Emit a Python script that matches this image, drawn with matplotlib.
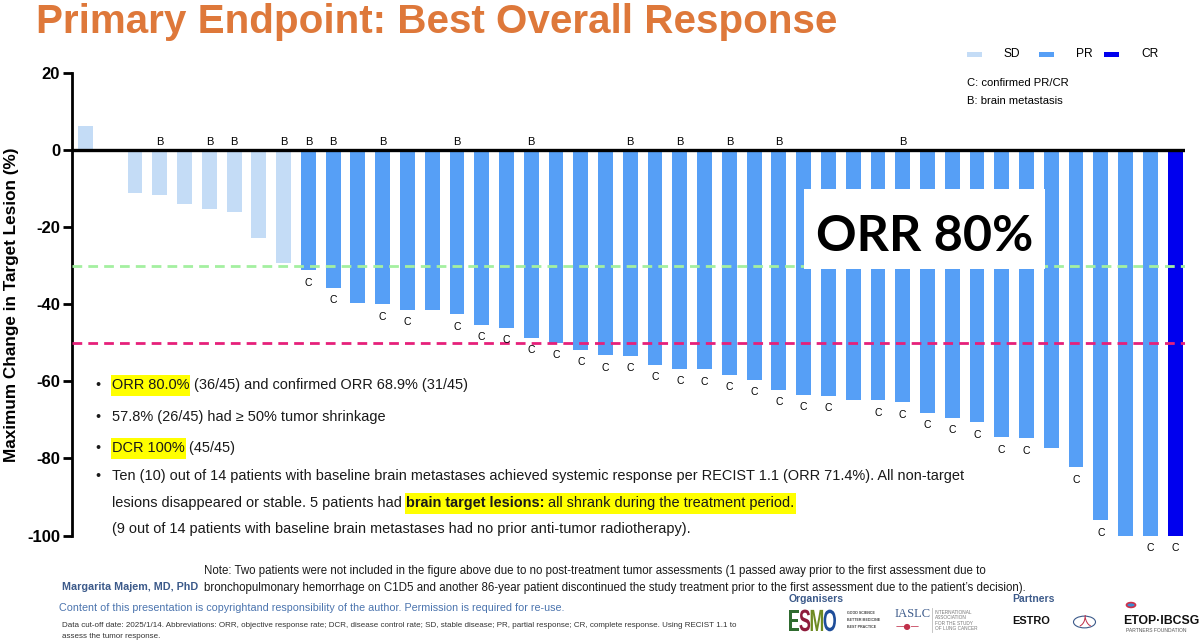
import matplotlib
matplotlib.use("Agg")
import matplotlib.pyplot as plt
from matplotlib.patches import Rectangle, Circle, PathPatch
from matplotlib.textpath import TextPath
from matplotlib.transforms import Affine2D, IdentityTransform
from matplotlib import font_manager as fm
import numpy as np

# ---- data (one value per patient) ----
change = [6.3, 0.0, -11.1, -11.6, -14.0, -15.3, -16.1, -22.7, -29.3,
          -31.1, -35.7, -39.6, -40.0, -41.4, -41.4, -42.6, -45.3, -46.1,
          -48.7, -50.0, -51.8, -53.2, -53.3, -55.7, -56.7, -56.9, -58.2,
          -59.6, -62.2, -63.4, -63.7, -64.8, -64.9, -65.4, -68.1, -69.4,
          -70.6, -74.5, -74.7, -77.4, -82.3, -96.1, -100.0, -100.0, -100.0]
response = ["SD"] * 9 + ["PR"] * 35 + ["CR"]
confirmed = [9, 10, 12, 13, 15, 16, 17, 18, 19, 20, 21, 22, 23, 24, 25, 26,
             27, 28, 29, 30, 32, 33, 34, 35, 36, 37, 38, 40, 41, 43, 44]
brain = [3, 5, 6, 8, 9, 10, 12, 15, 18, 22, 24, 26, 28, 33]
yticks = [20, 0, -20, -40, -60, -80, -100]
thresholds = [-30, -50]

colors = {"SD": "#C4DCF6", "PR": "#569FF6", "CR": "#0000EE"}
line_colors = ["#A4F0A0", "#E6207A"]

W, H = 1199, 641


def has_font(name):
    try:
        fm.findfont(fm.FontProperties(family=name), fallback_to_default=False)
        return True
    except ValueError:
        return False


SANS = "Liberation Sans"
NARROW = "Liberation Sans Narrow" if has_font("Liberation Sans Narrow") else SANS
BIG = "Lato"

plt.rcParams["axes.unicode_minus"] = False
plt.rcParams["font.family"] = [SANS, "DejaVu Sans"]


def fx(x):
    return x / W


def fy(y):
    return 1 - y / H


fig = plt.figure(figsize=(W / 100, H / 100), dpi=100)
R = fig.canvas.get_renderer()


def text_w(s, size, family, weight="normal"):
    t = fig.text(0, 0, s, fontsize=size, family=[family, "DejaVu Sans"], weight=weight)
    w = t.get_window_extent(renderer=R).width
    t.remove()
    return w


def fit(s, target, family, weight="normal"):
    # font size that makes the string as wide as in the slide
    return 10 * target / text_w(s, 10, family, weight)


def adv(s, size, family, weight="normal"):
    return text_w("|" + s + "|", size, family, weight) - text_w("||", size, family, weight)


# ---- waterfall axes ----
ax = fig.add_axes([fx(72), fy(535.5), (1185 - 72) / W, (535.5 - 73.3) / H])
x = np.arange(len(change))
ax.bar(x, change, width=0.6, color=[colors[r] for r in response], zorder=2)
for th, c in zip(thresholds, line_colors):
    ax.axhline(th, color=c, lw=2, ls=(0, (3.5, 2.2)), zorder=3)
ax.axhline(0, color="black", lw=2.4, zorder=4)

ax.set_xlim(-0.545, 44.4)
ax.set_ylim(-100, 20)
ax.set_xticks([])
ax.set_yticks(yticks)
ax.set_yticklabels([str(t) for t in yticks], fontsize=12, weight="bold",
                   family=[NARROW, "DejaVu Sans"])
ax.tick_params(axis="y", length=6.5, width=2, pad=2)
for side in ["top", "right", "bottom"]:
    ax.spines[side].set_visible(False)
ax.spines["left"].set_linewidth(2)
ax.patch.set_alpha(0)

for i in confirmed:
    ax.annotate("C", (x[i], change[i]), xytext=(0, -9), textcoords="offset points",
                ha="center", va="center", fontsize=7.5, annotation_clip=False)
for i in brain:
    ax.annotate("B", (x[i], 0), xytext=(0, 6.2), textcoords="offset points",
                ha="center", va="center", fontsize=8)

ylab = "Maximum Change in Target Lesion (%)"
fig.text(fx(12), fy(305), ylab, rotation=90, ha="center", va="center",
         weight="bold", fontsize=fit(ylab, 314, SANS, "bold"))

# ---- title ----
title = "Primary Endpoint: Best Overall Response"
fig.text(fx(36.4), fy(33.3), title, ha="left", va="baseline", color="#DE783A",
         weight="bold", fontsize=fit(title, 803, SANS, "bold"))

# ---- legend ----
lg_size = fit("C: confirmed PR/CR", 101.7, SANS)
for lab, x0, tx in [("SD", 967.3, 1004), ("PR", 1039.3, 1076), ("CR", 1104, 1141)]:
    fig.patches.append(Rectangle((fx(x0), fy(56.6)), 15 / W, 4.6 / H,
                                 transform=fig.transFigure, fc=colors[lab], ec="none"))
    fig.text(fx(tx), fy(54.3), lab, ha="left", va="center", fontsize=lg_size + 0.6)
fig.text(fx(967.3), fy(82.7), "C: confirmed PR/CR", ha="left", va="center", fontsize=lg_size)
fig.text(fx(967), fy(100.7), "B: brain metastasis", ha="left", va="center", fontsize=lg_size)

# ---- ORR call-out ----
fig.patches.append(Rectangle((fx(804), fy(269.3)), (1045 - 804) / W, 80 / H,
                             transform=fig.transFigure, fc="white", ec="none", zorder=5))
fig.text(fx(924.5), fy(250.7), "ORR 80%", ha="center", va="baseline", weight="bold",
         family=[BIG, SANS], fontsize=fit("ORR 80%", 216.7, BIG, "bold"), zorder=6)

# ---- bullet block ----
lines = [
    (385.0, True, [("ORR 80.0%", False, True), (" (36/45) and confirmed ORR 68.9% (31/45)", False, False)]),
    (416.7, True, [("57.8% (26/45) had \u2265 50% tumor shrinkage", False, False)]),
    (448.3, True, [("DCR 100%", False, True), (" (45/45)", False, False)]),
    (476.0, True, [("Ten (10) out of 14 patients with baseline brain metastases achieved systemic "
                    "response per RECIST 1.1 (ORR 71.4%). All non-target", False, False)]),
    (503.3, False, [("lesions disappeared or stable. 5 patients had ", False, False),
                    ("brain target lesions:", True, True),
                    (" all shrank during the treatment period.", False, True)]),
    (529.3, False, [("(9 out of 14 patients with baseline brain metastases had no prior "
                     "anti-tumor radiotherapy).", False, False)]),
]
b_size = fit(lines[3][2][0][0], 846, NARROW)
for y, bullet, parts in lines:
    if bullet:
        fig.text(fx(95.7), fy(y), "\u2022", ha="left", va="center", fontsize=b_size,
                 family=[NARROW, "DejaVu Sans"], color="#1a1a1a")
    xc = 112
    for s, bold, hl in parts:
        wt = "bold" if bold else "normal"
        w = adv(s, b_size, NARROW, wt)
        if hl:
            fig.patches.append(Rectangle((fx(xc - 1), fy(y + 10.5)), (w + 2) / W, 21 / H,
                                         transform=fig.transFigure, fc="#FFFF00", ec="none"))
        fig.text(fx(xc), fy(y), s, ha="left", va="center", fontsize=b_size, weight=wt,
                 family=[NARROW, "DejaVu Sans"], color="#1a1a1a")
        xc += w

# ---- footer ----
note1 = ("Note: Two patients were not included in the figure above due to no post-treatment "
         "tumor assessments (1 passed away prior to the first assessment due to")
note2 = ("bronchopulmonary hemorrhage on C1D5 and another 86-year patient discontinued the study "
         "treatment prior to the first assessment due to the patient\u2019s decision).")
n_size = fit(note1, 784, NARROW)
fig.text(fx(204), fy(570.7), note1, ha="left", va="center", fontsize=n_size,
         family=NARROW, color="#1a1a1a")
fig.text(fx(204), fy(588.3), note2, ha="left", va="center", fontsize=n_size,
         family=NARROW, color="#1a1a1a")

author = "Margarita Majem, MD, PhD"
fig.text(fx(62.5), fy(587), author, ha="left", va="center", weight="bold", color="#3C5A8A",
         family=NARROW, fontsize=fit(author, 135, NARROW, "bold"))
copy_txt = ("Content of this presentation is copyrightand responsibility of the author. "
            "Permission is required for re-use.")
fig.text(fx(58.7), fy(608.3), copy_txt, ha="left", va="center", color="#4B74AE",
         family=NARROW, fontsize=fit(copy_txt, 500, NARROW))
cut1 = ("Data cut-off date: 2025/1/14. Abbreviations: ORR, objective response rate; DCR, disease "
        "control rate; SD, stable disease; PR, partial response; CR, complete response. Using RECIST 1.1 to")
d_size = fit(cut1, 668, NARROW)
fig.text(fx(62.5), fy(625.7), cut1, ha="left", va="center", fontsize=d_size, family=NARROW, color="#333333")
fig.text(fx(62.5), fy(636.7), "assess the tumor response.", ha="left", va="center",
         fontsize=d_size, family=NARROW, color="#333333")

# ---- organiser / partner marks (approximate) ----
fig.text(fx(789), fy(599.5), "Organisers", ha="left", va="center", weight="bold",
         fontsize=7.5, family=NARROW, color="#3C5A8A")
fig.text(fx(1012), fy(599.5), "Partners", ha="left", va="center", weight="bold",
         fontsize=7.5, family=NARROW, color="#3C5A8A")

# ESMO letters: condensed by squeezing the glyph outlines
bold_prop = fm.FontProperties(family=SANS, weight="bold")
xe = 789
for ch, c in zip("ESMO", ["#2F6B2F", "#8E1B3B", "#6E8B22", "#1F4E9A"]):
    tp = TextPath((0, 0), ch, size=30.7, prop=bold_prop)
    ext = tp.get_extents()
    tr = Affine2D().translate(-ext.x0, 0).scale(0.58, 1.0).translate(xe, H - 631)
    fig.patches.append(PathPatch(tr.transform_path(tp), transform=IdentityTransform(),
                                 fc=c, ec="none"))
    xe += ext.width * 0.58 + 0.5
for k, s in enumerate(["GOOD SCIENCE", "BETTER MEDICINE", "BEST PRACTICE"]):
    fig.text(fx(847), fy(613 + k * 7), s, ha="left", va="center", fontsize=2.6,
             weight="bold", color="#444444")
fig.text(fx(895), fy(614), "IASLC", ha="left", va="center", fontsize=9,
         family="Liberation Serif", color="#3C5A8A")
fig.text(fx(896), fy(626), "\u2014\u25CF\u2014", ha="left", va="center", fontsize=6,
         family="DejaVu Sans", color="#C0304A")
fig.lines.append(plt.Line2D([fx(932), fx(932)], [fy(608), fy(632)],
                            transform=fig.transFigure, color="#BBBBBB", lw=0.6))
for k, s in enumerate(["INTERNATIONAL", "ASSOCIATION", "FOR THE STUDY", "OF LUNG CANCER"]):
    fig.text(fx(935), fy(612 + k * 5.6), s, ha="left", va="center", fontsize=3.4,
             color="#777777")
fig.text(fx(1012), fy(621), "ESTRO", ha="left", va="center", weight="bold",
         fontsize=fit("ESTRO", 38, SANS, "bold"), color="#111111")
fig.patches.append(Circle((fx(1084.5), fy(622)), 11 / W, transform=fig.transFigure,
                          fill=False, ec="#3C5A8A", lw=0.8))
fig.text(fx(1084.5), fy(622), "\u4eba", ha="center", va="center", fontsize=9,
         family=["Noto Sans CJK SC", "DejaVu Sans"], color="#C0304A")
fig.patches.append(Circle((fx(1131), fy(605)), 4.5 / W, transform=fig.transFigure,
                          fc="#3C8DD0", ec="#D0304A", lw=1.2))
fig.text(fx(1123), fy(620.5), "ETOP\u00b7IBCSG", ha="left", va="center", weight="bold",
         fontsize=fit("ETOP\u00b7IBCSG", 76, SANS, "bold"), color="#111111")
fig.text(fx(1126), fy(630), "PARTNERS FOUNDATION", ha="left", va="center",
         fontsize=3.6, color="#555555")

fig.savefig("out.png", dpi=100)
